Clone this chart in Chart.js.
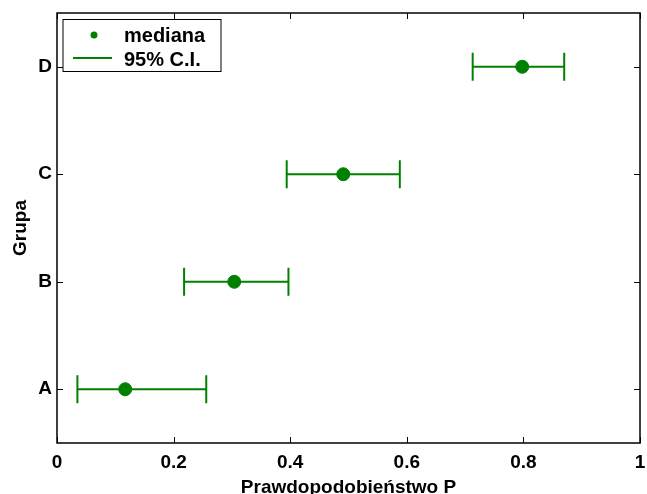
<!DOCTYPE html>
<html>
<head>
<meta charset="utf-8">
<script src="https://cdn.jsdelivr.net/npm/chart.js@4"></script>
<style>
  body { margin: 0; background: #fff; }
  #wrap { width: 647px; height: 494px; }
</style>
</head>
<body>
<div id="wrap"><canvas id="chart"></canvas></div>
<script>
// dane
const groups = ['A', 'B', 'C', 'D'];
const medians = [0.117, 0.304, 0.491, 0.798];
const ciLow = [0.035, 0.218, 0.394, 0.713];
const ciHigh = [0.256, 0.397, 0.588, 0.870];
const xTicks = [0, 0.2, 0.4, 0.6, 0.8, 1];
const legendLabels = ['mediana', '95% C.I.'];

const GREEN = '#008000';
const FONT = { family: '"Liberation Sans", Arial, sans-serif', size: 19, weight: 'bold' };

// odcinki przedziałów ufności, jeden zbiór na grupę
const ciSets = groups.map((g, i) => ({
    type: 'line',
    label: 'ci' + g,
    data: [{ x: ciLow[i], y: i + 1 }, { x: ciHigh[i], y: i + 1 }],
    borderColor: GREEN,
    borderWidth: 2,
    showLine: true,
    pointStyle: 'line',
    rotation: 90,
    pointRadius: 14,
    pointBorderWidth: 2,
    pointBorderColor: GREEN,
    order: 1
}));

const medianSet = {
    type: 'scatter',
    label: legendLabels[0],
    data: medians.map((m, i) => ({ x: m, y: i + 1 })),
    backgroundColor: GREEN,
    borderColor: GREEN,
    pointRadius: 6.5,
    order: 0
};

// ramka i znaczniki skierowane do środka na wszystkich bokach
const frame = {
    id: 'frame',
    afterDraw(chart) {
        const { ctx, chartArea: a, scales } = chart;
        ctx.save();
        ctx.strokeStyle = '#000';
        ctx.lineWidth = 1.5;
        ctx.strokeRect(a.left, a.top, a.right - a.left, a.bottom - a.top);
        ctx.lineWidth = 1;
        ctx.beginPath();
        xTicks.forEach(v => {
            const px = Math.round(scales.x.getPixelForValue(v)) + 0.5;
            ctx.moveTo(px, a.bottom); ctx.lineTo(px, a.bottom - 6);
            ctx.moveTo(px, a.top); ctx.lineTo(px, a.top + 6);
        });
        groups.forEach((g, i) => {
            const py = Math.round(scales.y.getPixelForValue(i + 1)) + 0.5;
            ctx.moveTo(a.left, py); ctx.lineTo(a.left + 6, py);
            ctx.moveTo(a.right, py); ctx.lineTo(a.right - 6, py);
        });
        ctx.stroke();

        // legenda
        const bx = 63, by = 19.5, bw = 158, bh = 52;
        ctx.fillStyle = '#fff';
        ctx.fillRect(bx, by, bw, bh);
        ctx.strokeStyle = '#000';
        ctx.lineWidth = 1;
        ctx.strokeRect(bx, by, bw, bh);
        ctx.fillStyle = GREEN;
        ctx.beginPath();
        ctx.arc(94, 35, 3.5, 0, Math.PI * 2);
        ctx.fill();
        ctx.strokeStyle = GREEN;
        ctx.lineWidth = 2;
        ctx.beginPath();
        ctx.moveTo(73, 58); ctx.lineTo(112, 58);
        ctx.stroke();
        ctx.fillStyle = '#000';
        ctx.font = 'bold 20px "Liberation Sans", Arial, sans-serif';
        ctx.textBaseline = 'middle';
        ctx.fillText(legendLabels[0], 124, 36);
        ctx.fillText(legendLabels[1], 124, 60);
        ctx.restore();
    }
};

new Chart(document.getElementById('chart'), {
    type: 'scatter',
    data: { datasets: [medianSet, ...ciSets] },
    options: {
        responsive: true,
        maintainAspectRatio: false,
        animation: false,
        layout: { autoPadding: false, padding: { top: 13, right: 7, left: 0, bottom: 0 } },
        plugins: { legend: { display: false }, tooltip: { enabled: false } },
        scales: {
            x: {
                type: 'linear',
                min: 0,
                max: 1,
                afterBuildTicks: s => { s.ticks = xTicks.map(v => ({ value: v })); },
                afterFit: s => { s.height = 51; s.paddingLeft = 0; s.paddingRight = 0; },
                grid: { display: false, drawTicks: false },
                border: { display: false },
                ticks: {
                    color: '#000',
                    font: FONT,
                    padding: 8,
                    maxRotation: 0,
                    callback: v => String(Number(v.toFixed(1)))
                },
                title: { display: true, text: 'Prawdopodobieństwo P', color: '#000', font: FONT, padding: { top: 0, bottom: -5 } }
            },
            y: {
                type: 'linear',
                min: 0.5,
                max: 4.5,
                afterBuildTicks: s => { s.ticks = groups.map((g, i) => ({ value: i + 1 })); },
                afterFit: s => { s.width = 57; s.paddingTop = 0; s.paddingBottom = 0; },
                grid: { display: false, drawTicks: false },
                border: { display: false },
                ticks: {
                    color: '#000',
                    font: FONT,
                    padding: 5,
                    callback: v => groups[v - 1]
                },
                title: { display: true, text: 'Grupa', color: '#000', font: FONT, padding: { top: 9, bottom: 0 } }
            }
        }
    },
    plugins: [frame]
});
</script>
</body>
</html>
